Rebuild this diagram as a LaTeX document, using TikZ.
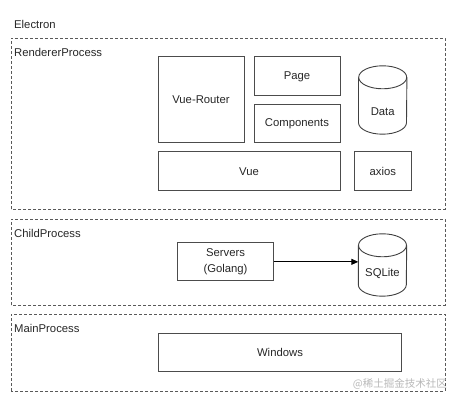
\documentclass[tikz,border=0pt]{standalone}
\usepackage{fontspec}
\setmainfont{Liberation Sans}
\newfontfamily\cjk{Noto Sans CJK SC}
\usetikzlibrary{calc,arrows.meta}
\tikzset{
  every node/.style={font=\fontsize{11.3}{13.5}\selectfont, text=black!85},
  group/.style={draw=black!65, line width=0.9pt, dash pattern=on 3pt off 2pt},
  grouplabel/.style={anchor=west, inner sep=0pt},
  blockbox/.style={draw=black!70, line width=1pt, inner sep=0pt, align=center},
  cylbox/.style={inner sep=0pt, minimum width=48pt},
  cylline/.style={draw=black!75, line width=0.9pt},
  link/.style={draw=black, line width=1pt, -{Triangle[length=7pt,width=6pt]}}
}
\begin{document}
\begin{tikzpicture}[x=1pt,y=1pt]
\useasboundingbox (0,0) rectangle (456,401);
\node[grouplabel] (electron) at (14,377) {Electron};
% groups
\draw[group] (11,192) rectangle (445,363);
\node[grouplabel] (rend) at (14,349) {RendererProcess};
\draw[group] (11,96) rectangle (445,182);
\node[grouplabel] (child) at (14,168) {ChildProcess};
\draw[group] (11,10) rectangle (445,87);
\node[grouplabel] (main) at (14,73) {MainProcess};
% renderer blocks
\node[blockbox, minimum width=86pt, minimum height=86pt] (router) at (201,301) {Vue-Router};
\node[blockbox, minimum width=86pt, minimum height=39pt] (page) at (297,324.5) {Page};
\node[blockbox, minimum width=86pt, minimum height=38pt] (comp) at (297,277) {Components};
\node[blockbox, minimum width=182pt, minimum height=39pt] (vue) at (249,229.5) {Vue};
\node[blockbox, minimum width=57.7pt, minimum height=39pt] (axios) at (382.85,229.5) {axios};
% Data cylinder
\node[cylbox, minimum height=68pt] (data) at (382.7,301) {};
\draw[cylline] ($(data.north west)+(0,-11.5)$) -- ($(data.south west)+(0,11.5)$)
  arc[start angle=180, end angle=360, x radius=24pt, y radius=11.5pt]
  -- ($(data.north east)+(0,-11.5)$);
\draw[cylline] ($(data.north)+(0,-11.5)$) ellipse [x radius=24pt, y radius=11.5pt];
\node (datalabel) at (382.7,289) {Data};
% child process
\node[blockbox, minimum width=95.6pt, minimum height=37.7pt,
  font=\fontsize{11.3}{16}\selectfont] (servers) at (225.5,139.15) {Servers\\(Golang)};
\node[cylbox, minimum height=62pt] (sqlite) at (382.5,136) {};
\draw[cylline] ($(sqlite.north west)+(0,-11.5)$) -- ($(sqlite.south west)+(0,11.5)$)
  arc[start angle=180, end angle=360, x radius=24pt, y radius=11.5pt]
  -- ($(sqlite.north east)+(0,-11.5)$);
\draw[cylline] ($(sqlite.north)+(0,-11.5)$) ellipse [x radius=24pt, y radius=11.5pt];
\node (sqlitelabel) at (382.5,128) {SQLite};
\draw[link] (servers.east) -- (sqlite.west |- servers.east);
% main process
\node[blockbox, minimum width=243.4pt, minimum height=37.7pt] (windows) at (280,48.15) {Windows};
% watermark
\node[anchor=east, inner sep=0pt, font=\cjk\fontsize{10.5}{12}\selectfont, text=black!28] (wm) at (447,17) {@稀土掘金技术社区};
\end{tikzpicture}
\end{document}
